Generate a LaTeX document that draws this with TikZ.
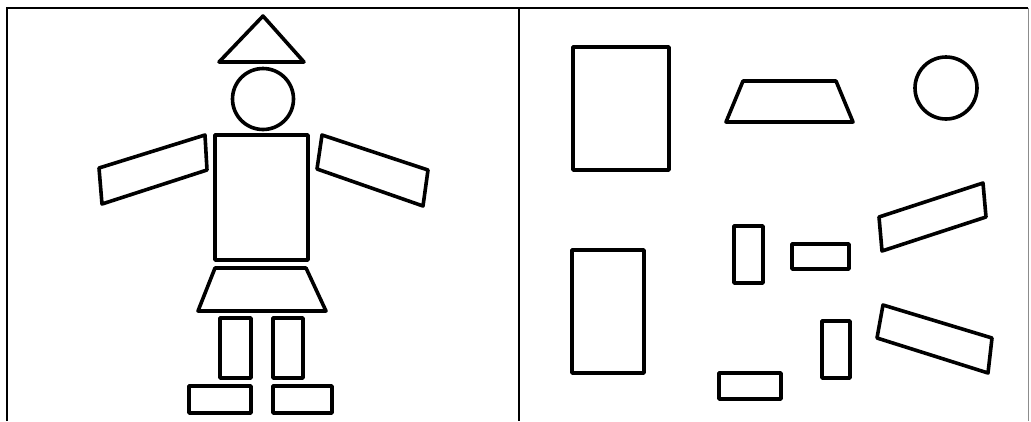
\documentclass[tikz,border=0pt]{standalone}
\begin{document}
\begin{tikzpicture}[x=1pt,y=-1pt,
  piece/.style={draw=black,line width=3.6pt,line join=round},
  framel/.style={draw=black,line width=2.4pt}]
\useasboundingbox (0,0) rectangle (1031,421);
% frame
\draw[framel] (7,421) -- (7,8) -- (1028,8);
\draw[framel] (519,8) -- (519,421);
\draw[draw=black!45,line width=1pt] (1028,8) -- (1028,421);
% left figure
\draw[piece] (263,16) -- (304,62) -- (219,62) -- cycle;
\draw[piece] (263,99) circle (30.5);
\draw[piece] (215,135) rectangle (308,260);
\draw[piece] (99,168) -- (205,135) -- (207,170) -- (102,204) -- cycle;
\draw[piece] (322,135) -- (428,170) -- (423,206) -- (317,169) -- cycle;
\draw[piece] (215,268) -- (306,268) -- (326,311) -- (198,311) -- cycle;
\draw[piece] (220,318) rectangle (251,378);
\draw[piece] (273,318) rectangle (303,378);
\draw[piece] (189,386) rectangle (251,413);
\draw[piece] (273,386) rectangle (332,413);
% right panel shapes
\draw[piece] (573,47) rectangle (669,170);
\draw[piece] (743,81) -- (836,81) -- (853,122) -- (726,122) -- cycle;
\draw[piece] (946,88) circle (31);
\draw[piece] (572,250) rectangle (644,373);
\draw[piece] (734,226) rectangle (763,283);
\draw[piece] (792,244) rectangle (849,269);
\draw[piece] (822,321) rectangle (850,378);
\draw[piece] (719,373) rectangle (781,399);
\draw[piece] (879,217) -- (983,183) -- (986,217) -- (882,251) -- cycle;
\draw[piece] (883,305) -- (992,338) -- (988,373) -- (877,338) -- cycle;
\end{tikzpicture}
\end{document}
